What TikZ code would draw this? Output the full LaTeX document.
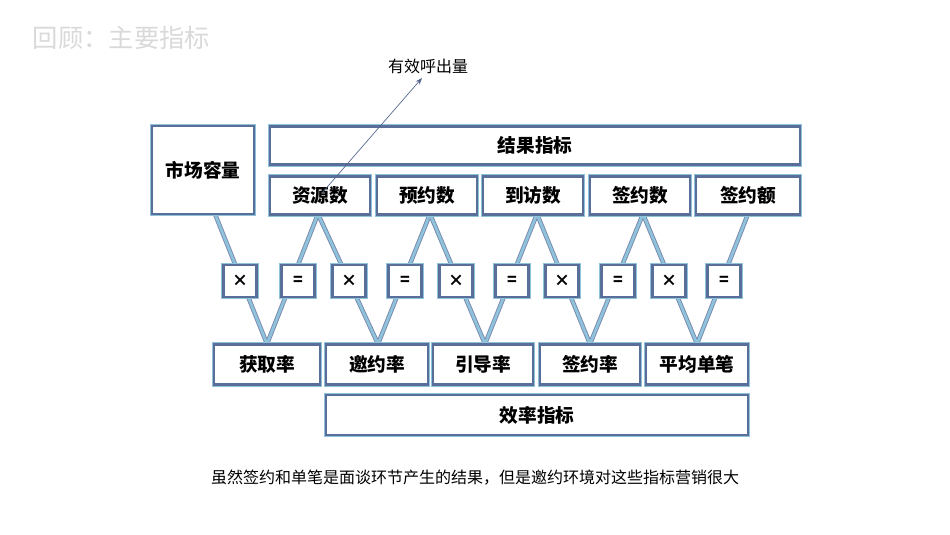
\documentclass[tikz,border=0pt]{standalone}
\usepackage{fontspec}
\newfontfamily\cjk{Noto Sans CJK SC}
\usetikzlibrary{arrows.meta}
\definecolor{bd}{HTML}{5A6E9A}
\definecolor{lb}{HTML}{8FC3DC}
\tikzset{
 box/.style={draw=bd,line width=2.2pt,fill=white,inner sep=0pt,font=\cjk\bfseries\fontsize{14}{14}\selectfont,
   preaction={draw=lb,line width=3.6pt}},
 sm/.style={box,minimum width=25pt,minimum height=24pt,font=\cjk\bfseries\fontsize{12}{12}\selectfont},
 ln/.style={draw=bd!80,double=lb,double distance=2pt,line width=0.7pt},
}
\begin{document}
\begin{tikzpicture}[x=0.75pt,y=-0.75pt]
\useasboundingbox (0,0) rectangle (950,535);
\node[font=\cjk\fontsize{19}{19}\selectfont,text=gray!30,anchor=west] (t) at (28,38) {回顾：主要指标};
% lines
\coordinate (a1) at (215,214); \coordinate (a2) at (318,214); \coordinate (a3) at (430,214);
\coordinate (a4) at (537,214); \coordinate (a5) at (643,214); \coordinate (a6) at (748,214);
\coordinate (b1) at (267,344); \coordinate (b2) at (378,344); \coordinate (b3) at (485,344);
\coordinate (b4) at (590,344); \coordinate (b5) at (697,344);
\draw[ln] (a1)--(b1)--(a2)--(b2)--(a3)--(b3)--(a4)--(b4)--(a5)--(b5)--(a6);
% top boxes
\node[box,minimum width=76.5pt,minimum height=66pt] (m) at (203,170) {市场容量};
\node[box,minimum width=397.5pt,minimum height=29pt] (r) at (535,145.5) {结果指标};
\foreach \n/\x/\w in {资源数/320/100,预约数/427/100,到访数/533/100,签约数/640/100,签约额/748/104}
  \node[box,minimum width=\w*0.75pt,minimum height=28pt] (\n) at (\x,195.5) {\n};
\foreach \s/\x [count=\i] in {×/240,=/298,×/349,=/405,×/456,=/512,×/562,=/618,×/669,=/724}
  \node[sm] (s\i) at (\x,281) {\s};
\foreach \n/\x/\w in {获取率/267/106,邀约率/377/102,引导率/483/100,签约率/590/100,平均单笔/697/102}
  \node[box,minimum width=\w*0.75pt,minimum height=30.5pt] (\n) at (\x,364.5) {\n};
\node[box,minimum width=316.5pt,minimum height=30pt] (e) at (537,415) {效率指标};
% arrow
\coordinate (p) at (322,193);
\node[font=\cjk\fontsize{12}{12}\selectfont] (h) at (428,66) {有效呼出量};
\draw[-{Stealth[length=5pt]},draw=bd!90!black,line width=0.5pt] (p)--(422,78);
\node[font=\cjk\fontsize{12}{12}\selectfont] (n) at (475,478) {虽然签约和单笔是面谈环节产生的结果，但是邀约环境对这些指标营销很大};
\end{tikzpicture}
\end{document}
